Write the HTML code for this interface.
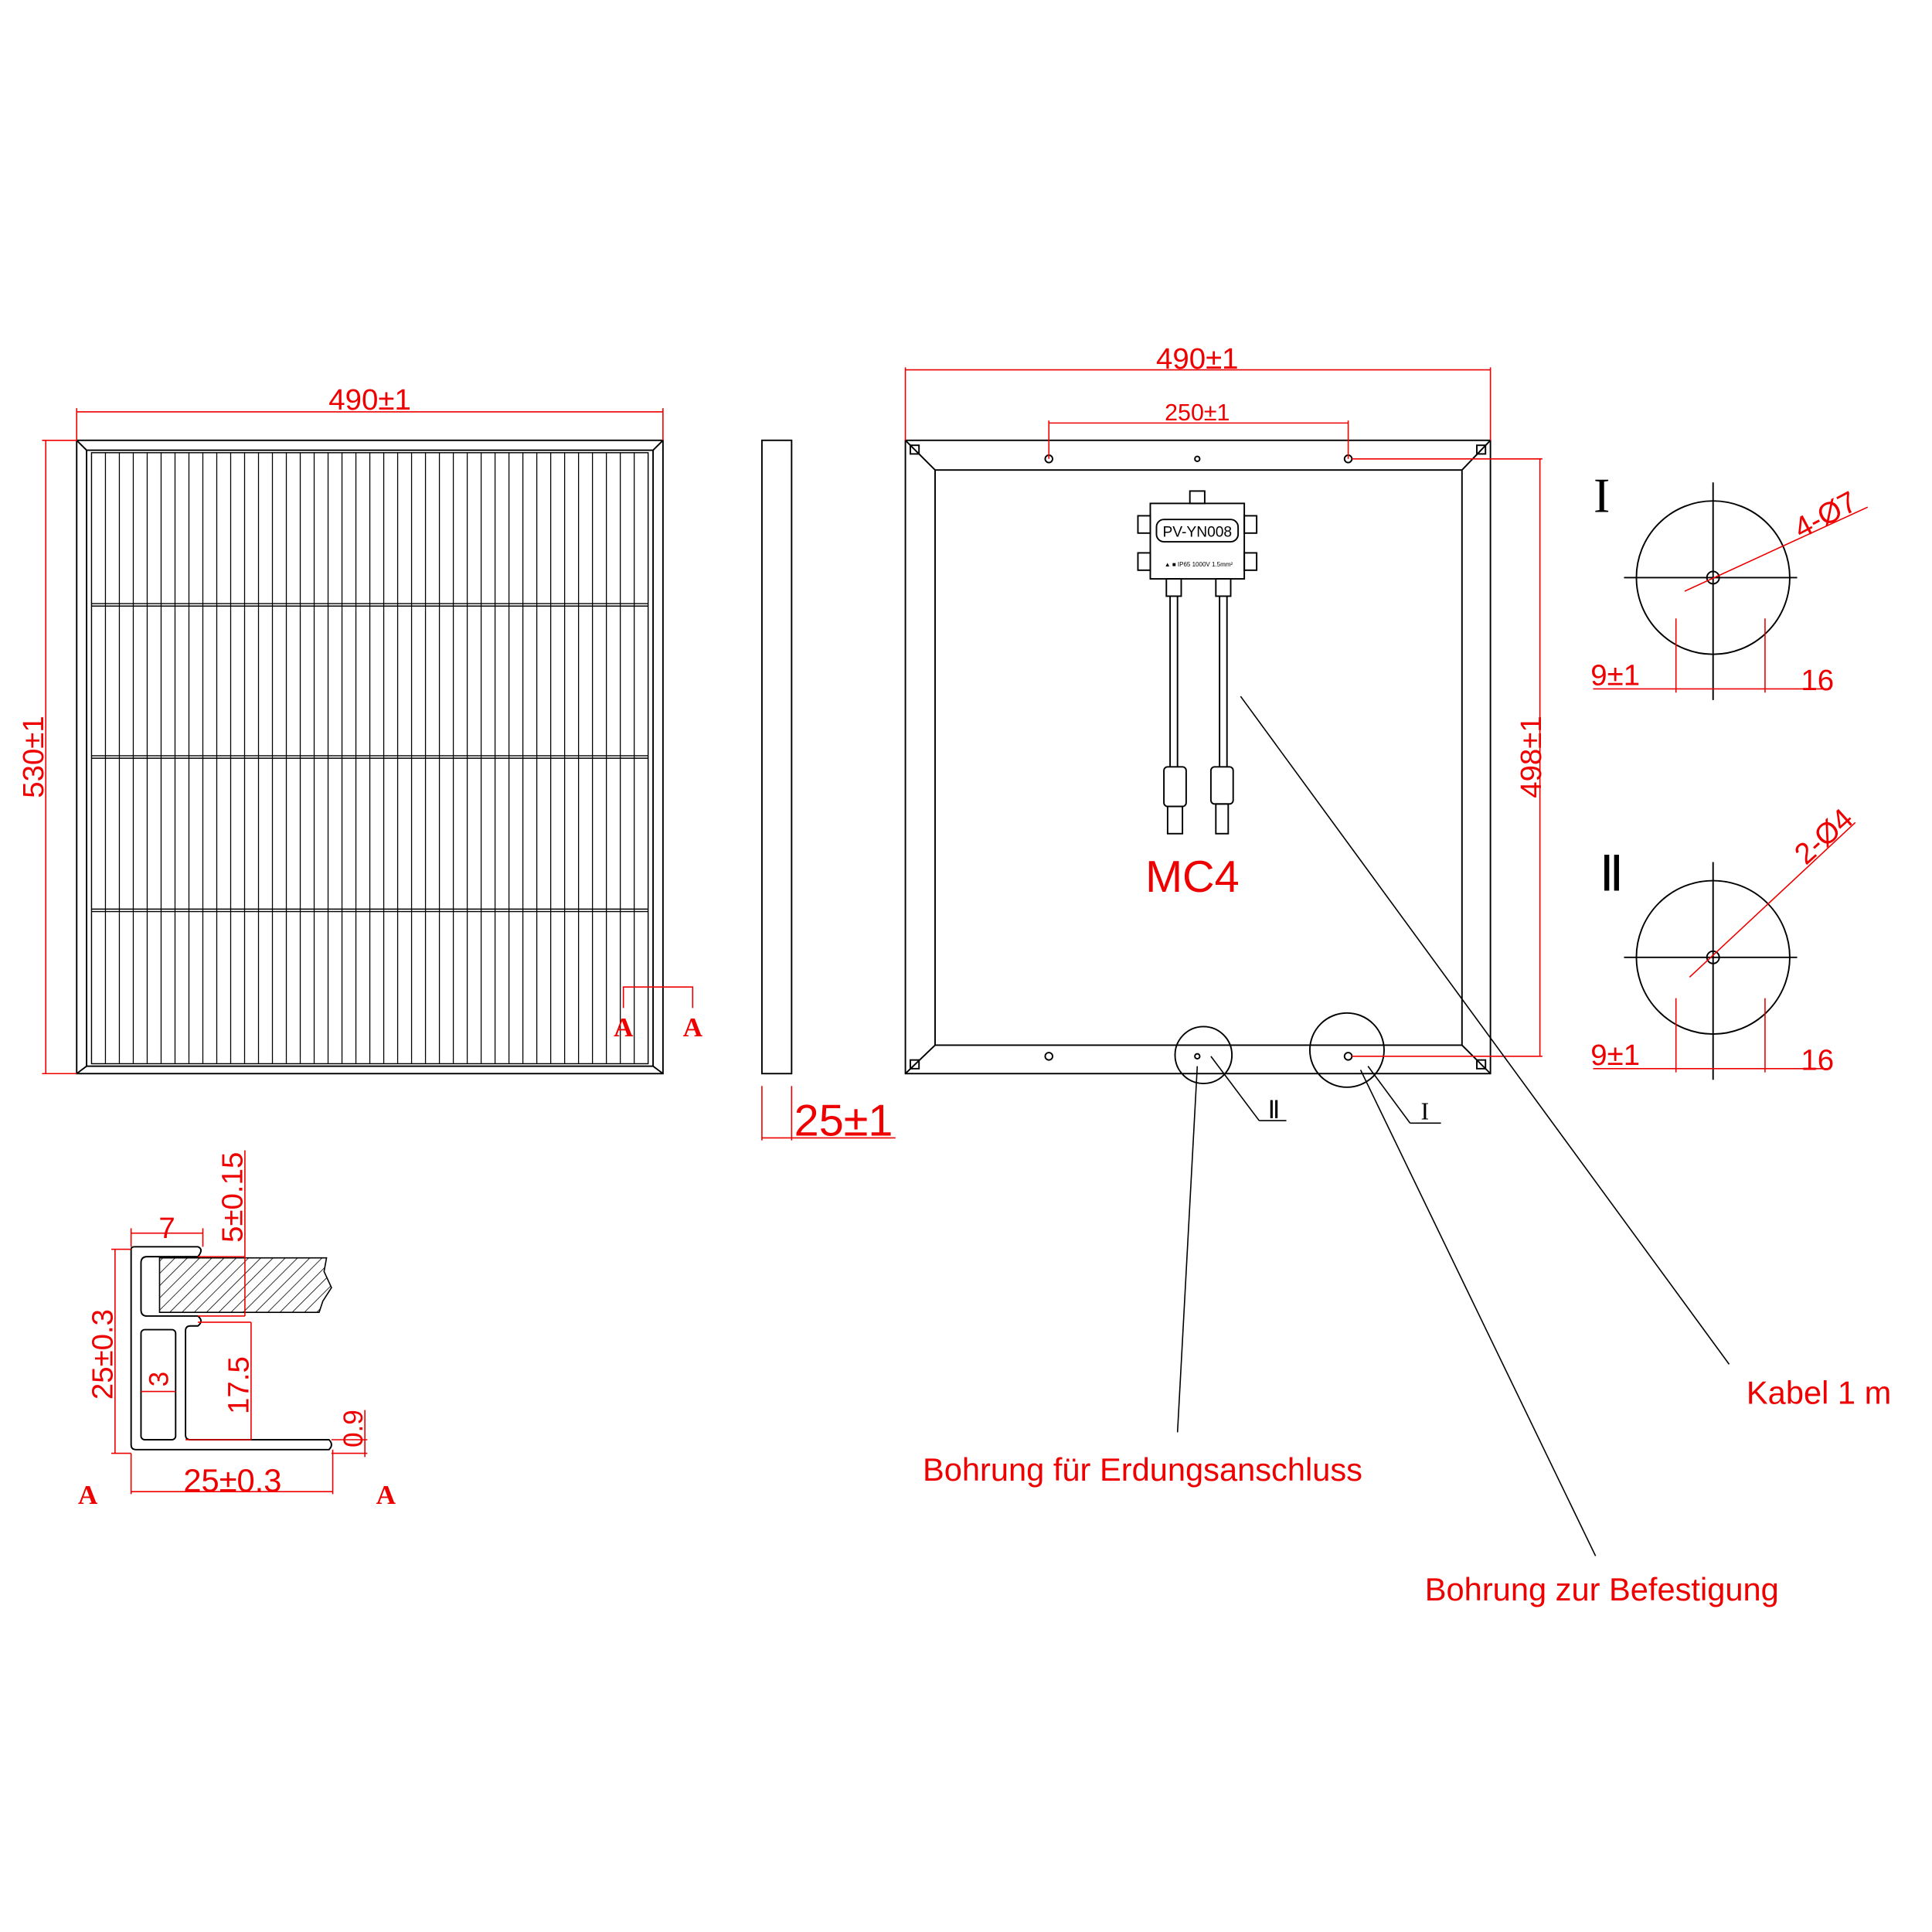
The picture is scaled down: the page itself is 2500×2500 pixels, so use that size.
<!DOCTYPE html>
<html><head><meta charset="utf-8">
<style>
html,body{margin:0;padding:0;background:#fff;}
svg{display:block;}
.k{stroke:#000;fill:none;stroke-width:1.2}
.r{stroke:#e00;fill:none;stroke-width:1}
.t{font-family:"Liberation Sans",sans-serif;fill:#e00;}
.d{font-family:"Liberation Sans",sans-serif;fill:#e00;font-weight:300}
</style></head>
<body>
<svg width="2500" height="2500" viewBox="0 0 1562 1562" xmlns="http://www.w3.org/2000/svg">
<rect width="1562" height="1562" fill="#fff"/>
<defs>
<pattern id="h" width="7" height="7" patternUnits="userSpaceOnUse" patternTransform="rotate(45)">
<line x1="0" y1="0" x2="0" y2="7" stroke="#000" stroke-width="1"/>
</pattern>
</defs>

<!-- LEFT PANEL -->
<rect class="k" x="62" y="356" width="474" height="512"/>
<rect class="k" x="70" y="364" width="458" height="498"/>
<line class="k" x1="62" y1="356" x2="70" y2="364"/><line class="k" x1="536" y1="356" x2="528" y2="364"/>
<line class="k" x1="62" y1="868" x2="70" y2="862"/><line class="k" x1="536" y1="868" x2="528" y2="862"/>
<g stroke="#000" stroke-width="0.9">
<rect x="74" y="366" width="450" height="494" fill="none"/>
<line x1="74" y1="488" x2="524" y2="488"/><line x1="74" y1="490" x2="524" y2="490"/>
<line x1="74" y1="611" x2="524" y2="611"/><line x1="74" y1="613" x2="524" y2="613"/>
<line x1="74" y1="735" x2="524" y2="735"/><line x1="74" y1="737" x2="524" y2="737"/>
</g>
<path stroke="#000" stroke-width="0.8" fill="none" d="M85.25 366V860M96.5 366V860M107.75 366V860M119 366V860M130.25 366V860M141.5 366V860M152.75 366V860M164 366V860M175.25 366V860M186.5 366V860M197.75 366V860M209 366V860M220.25 366V860M231.5 366V860M242.75 366V860M254 366V860M265.25 366V860M276.5 366V860M287.75 366V860M299 366V860M310.25 366V860M321.5 366V860M332.75 366V860M344 366V860M355.25 366V860M366.5 366V860M377.75 366V860M389 366V860M400.25 366V860M411.5 366V860M422.75 366V860M434 366V860M445.25 366V860M456.5 366V860M467.75 366V860M479 366V860M490.25 366V860M501.5 366V860M512.75 366V860"/>
<!-- left dims -->
<g class="r">
<line x1="62" y1="356" x2="62" y2="330"/><line x1="536" y1="356" x2="536" y2="330"/>
<line x1="62" y1="333" x2="536" y2="333"/>
<line x1="62" y1="356" x2="34" y2="356"/><line x1="62" y1="868" x2="34" y2="868"/>
<line x1="37" y1="356" x2="37" y2="868"/>
<polyline points="504,815 504,798 560,798 560,815"/>
</g>
<text class="d" x="299" y="331" font-size="24" text-anchor="middle">490±1</text>
<text class="d" font-size="24" text-anchor="middle" transform="translate(35,612) rotate(-90)">530±1</text>
<text x="504" y="838" font-family="Liberation Serif,serif" font-weight="bold" font-size="22" fill="#e00" text-anchor="middle">A</text>
<text x="560" y="838" font-family="Liberation Serif,serif" font-weight="bold" font-size="22" fill="#e00" text-anchor="middle">A</text>

<!-- SIDE VIEW -->
<rect class="k" x="616" y="356" width="24" height="512" stroke-width="1.5"/>
<g class="r"><line x1="616" y1="878" x2="616" y2="922"/><line x1="640" y1="878" x2="640" y2="922"/><line x1="616" y1="920" x2="724" y2="920"/></g>
<text class="d" x="682" y="918" font-size="36" text-anchor="middle">25±1</text>

<!-- RIGHT PANEL -->
<rect class="k" x="732" y="356" width="473" height="512"/>
<rect class="k" x="756" y="380" width="426" height="465"/>
<line class="k" x1="732" y1="356" x2="756" y2="380"/><line class="k" x1="1205" y1="356" x2="1182" y2="380"/>
<line class="k" x1="732" y1="868" x2="756" y2="845"/><line class="k" x1="1205" y1="868" x2="1182" y2="845"/>
<g class="k"><rect x="736" y="360" width="7" height="7"/><rect x="1194" y="360" width="7" height="7"/><rect x="736" y="857" width="7" height="7"/><rect x="1194" y="857" width="7" height="7"/></g>
<g class="k">
<circle cx="848" cy="371" r="3"/><circle cx="1090" cy="371" r="3"/><circle cx="968" cy="371" r="2"/>
<circle cx="848" cy="854" r="3"/><circle cx="968" cy="854" r="2"/><circle cx="1090" cy="854" r="3"/>
<circle cx="973" cy="853" r="23"/><circle cx="1089" cy="849" r="30"/>
</g>
<g class="r">
<line x1="732" y1="356" x2="732" y2="297"/><line x1="1205" y1="356" x2="1205" y2="297"/>
<line x1="732" y1="299" x2="1205" y2="299"/>
<line x1="848" y1="371" x2="848" y2="340"/><line x1="1090" y1="371" x2="1090" y2="340"/>
<line x1="848" y1="342" x2="1090" y2="342"/>
<line x1="1093" y1="371" x2="1247" y2="371"/><line x1="1093" y1="854" x2="1247" y2="854"/>
<line x1="1245" y1="371" x2="1245" y2="854"/>
</g>
<text class="d" x="968" y="298" font-size="24" text-anchor="middle">490±1</text>
<text class="d" x="968" y="340" font-size="19" text-anchor="middle">250±1</text>
<text class="d" font-size="24" text-anchor="middle" transform="translate(1246,612) rotate(-90)">498±1</text>

<!-- junction box -->
<g class="k" stroke-width="1.2">
<rect x="962" y="397" width="12" height="10"/>
<rect x="930" y="407" width="76" height="61"/>
<rect x="935" y="420" width="66" height="18" rx="6"/>
<rect x="920" y="417" width="10" height="14"/><rect x="920" y="447" width="10" height="14"/>
<rect x="1006" y="417" width="10" height="14"/><rect x="1006" y="447" width="10" height="14"/>
<rect x="943" y="468" width="12" height="14"/><rect x="983" y="468" width="12" height="14"/>
<line x1="946" y1="482" x2="946" y2="620"/><line x1="952" y1="482" x2="952" y2="620"/>
<line x1="986" y1="482" x2="986" y2="620"/><line x1="992" y1="482" x2="992" y2="620"/>
<rect x="941" y="620" width="18" height="32" rx="3"/><rect x="944" y="652" width="12" height="22"/>
<rect x="979" y="620" width="18" height="30" rx="3"/><rect x="983" y="650" width="10" height="24"/>
</g>
<text x="968" y="434" font-family="Liberation Sans,sans-serif" font-size="12" text-anchor="middle">PV-YN008</text>
<text x="969" y="458" font-family="Liberation Sans,sans-serif" font-size="5" text-anchor="middle">▲ ■ IP65 1000V 1.5mm²</text>
<text class="t" x="964" y="721" font-size="36" text-anchor="middle">MC4</text>

<!-- leaders -->
<g stroke="#000" stroke-width="1" fill="none">
<line x1="1003" y1="563" x2="1398" y2="1103"/>
<line x1="1100" y1="865" x2="1290" y2="1258"/>
<line x1="1106" y1="862" x2="1140" y2="908"/><line x1="1140" y1="908" x2="1165" y2="908"/>
<line x1="968" y1="862" x2="952" y2="1158"/>
<line x1="979" y1="854" x2="1018" y2="906"/><line x1="1018" y1="906" x2="1040" y2="906"/>
</g>
<text x="1030" y="904" font-family="Liberation Serif,serif" font-size="20" text-anchor="middle">Ⅱ</text>
<text x="1152" y="905" font-family="Liberation Serif,serif" font-size="20" text-anchor="middle">I</text>
<text class="t" x="1412" y="1135" font-size="26">Kabel 1 m</text>
<text class="t" x="1152" y="1294" font-size="26">Bohrung zur Befestigung</text>
<text class="t" x="746" y="1197" font-size="26">Bohrung für Erdungsanschluss</text>

<!-- DETAIL I -->
<g class="k" stroke-width="1">
<circle cx="1385" cy="467" r="62"/><line x1="1313" y1="467" x2="1453" y2="467"/><line x1="1385" y1="390" x2="1385" y2="566"/>
<circle cx="1385" cy="467" r="5"/>
</g>
<g class="r">
<line x1="1362" y1="478" x2="1510" y2="410"/>
<line x1="1288" y1="557" x2="1480" y2="557"/>
<line x1="1355" y1="500" x2="1355" y2="560"/><line x1="1427" y1="500" x2="1427" y2="560"/>
</g>
<text x="1295" y="414" font-family="Liberation Serif,serif" font-size="40" text-anchor="middle">I</text>
<text class="d" font-size="24" transform="translate(1456,436) rotate(-28)">4-Ø7</text>
<text class="d" x="1286" y="554" font-size="24">9±1</text>
<text class="d" x="1456" y="558" font-size="24">16</text>

<!-- DETAIL II -->
<g class="k" stroke-width="1">
<circle cx="1385" cy="774" r="62"/><line x1="1313" y1="774" x2="1453" y2="774"/><line x1="1385" y1="697" x2="1385" y2="873"/>
<circle cx="1385" cy="774" r="5"/>
</g>
<g class="r">
<line x1="1366" y1="790" x2="1500" y2="665"/>
<line x1="1288" y1="864" x2="1480" y2="864"/>
<line x1="1355" y1="807" x2="1355" y2="867"/><line x1="1427" y1="807" x2="1427" y2="867"/>
</g>
<text x="1303" y="720" font-family="Liberation Serif,serif" font-size="40" text-anchor="middle">Ⅱ</text>
<text class="d" font-size="24" transform="translate(1460,700) rotate(-42)">2-Ø4</text>
<text class="d" x="1286" y="861" font-size="24">9±1</text>
<text class="d" x="1456" y="865" font-size="24">16</text>

<!-- CROSS SECTION -->
<path class="k" d="M106,1010 Q106,1008 109,1008 L160,1008 Q165,1010 160,1016 L119,1016 Q114,1016 114,1021 L114,1059 Q114,1064 119,1064 L160,1064 Q165,1068 160,1072 L154,1072 Q150,1072 150,1076 L150,1160 Q150,1164 154,1164 L266,1164 Q270,1168 266,1172 L110,1172 Q106,1172 106,1168 Z"/>
<rect class="k" x="114" y="1075" width="28" height="89" rx="3"/>
<path d="M129,1017 L264,1017 L262,1028 L268,1041 L261,1052 L258,1061 L129,1061 Z" fill="url(#h)" stroke="#000" stroke-width="1"/>
<g class="r">
<line x1="106" y1="997" x2="164" y2="997"/><line x1="106" y1="993" x2="106" y2="1008"/><line x1="164" y1="993" x2="164" y2="1008"/>
<line x1="93" y1="1010" x2="93" y2="1175"/><line x1="90" y1="1010" x2="106" y2="1010"/><line x1="90" y1="1175" x2="106" y2="1175"/>
<line x1="198" y1="930" x2="198" y2="1064"/><line x1="160" y1="1016" x2="198" y2="1016"/><line x1="160" y1="1064" x2="198" y2="1064"/>
<line x1="203" y1="1069" x2="203" y2="1164"/><line x1="160" y1="1069" x2="203" y2="1069"/><line x1="150" y1="1164" x2="203" y2="1164"/>
<line x1="114" y1="1125" x2="142" y2="1125"/>
<line x1="295" y1="1140" x2="295" y2="1178"/><line x1="268" y1="1164" x2="297" y2="1164"/><line x1="268" y1="1175" x2="297" y2="1175"/>
<line x1="106" y1="1175" x2="106" y2="1208"/><line x1="269" y1="1172" x2="269" y2="1208"/><line x1="106" y1="1206" x2="269" y2="1206"/>
</g>
<text class="d" x="135" y="1001" font-size="24" text-anchor="middle">7</text>
<text class="d" font-size="24" text-anchor="middle" transform="translate(91,1095) rotate(-90)">25±0.3</text>
<text class="d" font-size="24" text-anchor="middle" transform="translate(196,968) rotate(-90)">5±0.15</text>
<text class="d" font-size="24" text-anchor="middle" transform="translate(201,1120) rotate(-90)">17.5</text>
<text class="d" font-size="22" text-anchor="middle" transform="translate(136,1115) rotate(-90)">3</text>
<text class="d" font-size="22" text-anchor="middle" transform="translate(293,1155) rotate(-90)">0.9</text>
<text class="d" x="188" y="1206" font-size="26" text-anchor="middle">25±0.3</text>
<text x="71" y="1216" font-family="Liberation Serif,serif" font-weight="bold" font-size="22" fill="#e00" text-anchor="middle">A</text>
<text x="312" y="1216" font-family="Liberation Serif,serif" font-weight="bold" font-size="22" fill="#e00" text-anchor="middle">A</text>
</svg>
</body></html>
